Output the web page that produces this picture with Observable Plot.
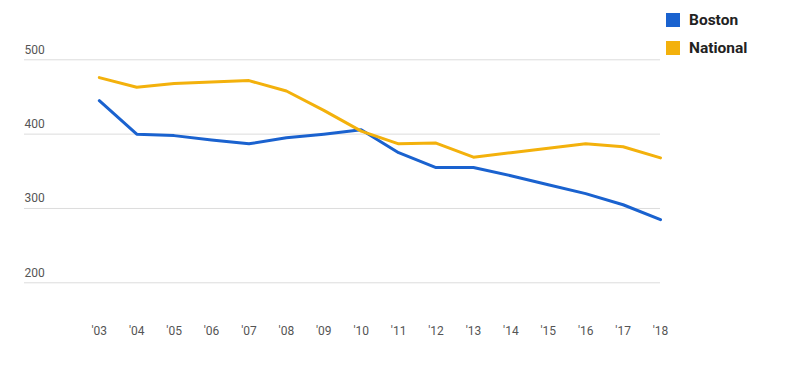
<!DOCTYPE html>
<html>
<head>
<meta charset="utf-8">
<script src="https://cdn.jsdelivr.net/npm/d3@7"></script>
<script src="https://cdn.jsdelivr.net/npm/@observablehq/plot@0.6"></script>
<style>
  html, body { margin: 0; padding: 0; background: #fff; }
  #wrap { position: relative; width: 811px; height: 365px; font-family: Roboto, "Noto Sans", sans-serif; }
  #clip { position: absolute; left: 0; top: 0; width: 672px; height: 365px; overflow: hidden; }
  #clip svg { max-width: none !important; width: 811px; height: 365px; }
  #legend { position: absolute; left: 666px; top: 6px; font-family: Roboto, sans-serif; font-weight: bold; font-size: 15.5px; color: #222; }
  .item { display: flex; align-items: center; height: 28px; }
  .sw { width: 14px; height: 14px; margin-right: 9px; }
</style>
</head>
<body>
<div id="wrap">
  <div id="clip"></div>
  <div id="legend"></div>
</div>
<script>
const years = [2003,2004,2005,2006,2007,2008,2009,2010,2011,2012,2013,2014,2015,2016,2017,2018];
const boston   = [445,400,398,392,387,395,400,406,375,355,355,344,332,320,305,285];
const national = [476,463,468,470,472,458,432,404,387,388,369,375,381,387,383,368];
const seriesNames = ["Boston","National"];
const colors = ["#1a62cf","#f3b10c"];
const yTicks = [200,300,400,500];

const rows = [];
years.forEach((y,i) => {
  rows.push({year: y, value: boston[i], series: "Boston"});
  rows.push({year: y, value: national[i], series: "National"});
});

const chart = Plot.plot({
  width: 811,
  height: 365,
  marginLeft: 24,
  marginRight: 151,
  marginTop: 59.3,
  marginBottom: 82.7,
  style: {fontFamily: "Roboto, sans-serif", fontSize: "12px", background: "white", maxWidth: "none"},
  x: {domain: [2001, 2018], axis: null},
  y: {domain: [200, 500], axis: null},
  color: {domain: seriesNames, range: colors},
  marks: [
    Plot.ruleY(yTicks, {stroke: "#dcdcdc", strokeWidth: 1}),
    Plot.text(yTicks, {frameAnchor: "left", y: d => d, text: d => String(d), textAnchor: "start", dy: -10, fill: "#555", fontSize: 12}),
    Plot.text(years, {x: d => d, frameAnchor: "bottom", text: d => "'" + String(d).slice(2), dy: 52, fill: "#555", fontSize: 12}),
    Plot.line(rows, {x: "year", y: "value", z: "series", stroke: "series", strokeWidth: 3, strokeLinejoin: "round"})
  ]
});
document.getElementById("clip").appendChild(chart);

const legend = document.getElementById("legend");
seriesNames.forEach((n, i) => {
  const d = document.createElement("div");
  d.className = "item";
  d.innerHTML = `<span class="sw" style="background:${colors[i]}"></span><span>${n}</span>`;
  legend.appendChild(d);
});
</script>
</body>
</html>
